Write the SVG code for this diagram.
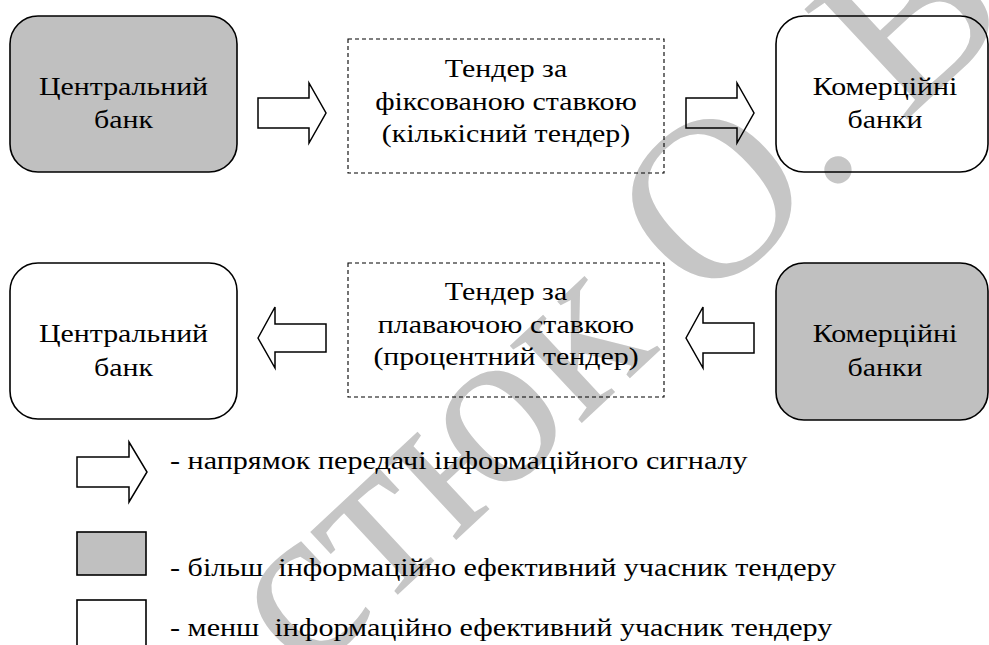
<svg xmlns="http://www.w3.org/2000/svg" width="989" height="645" viewBox="0 0 989 645">
<style>
.bg{fill:#ffffff}
.wm{font-size:230px;fill:#c6c6c6}
.node{stroke:#000;stroke-width:1.6}
.dark{fill:#c0c0c0}
.light{fill:none}
.dash{fill:none;stroke:#000;stroke-width:1.1;stroke-dasharray:4 3}
.arrow{fill:none;stroke:#000;stroke-width:1.5;stroke-linejoin:miter}
.t{font-size:26px;fill:#000;text-anchor:middle}
.lg{font-size:24.5px;fill:#000;white-space:pre}
</style>
<rect class="bg" x="0" y="0" width="989" height="645"/>
<g id="watermark" font-family="'Liberation Serif', 'DejaVu Serif', serif">
<text class="wm" transform="translate(305 681) rotate(-43)">стюк О.<tspan dx="-8"> В.</tspan></text>
</g>
<g font-family="'Liberation Serif', 'DejaVu Serif', serif">
<g id="n1">
<rect class="node dark" x="10" y="16" width="227" height="156" rx="28"/>
<text class="t" transform="translate(123.5 95) scale(1.15 1)">Центральний</text>
<text class="t" transform="translate(123.5 128) scale(1.15 1)">банк</text>
</g>
<g id="n2">
<rect class="dash" x="348" y="39" width="316" height="134"/>
<text class="t" transform="translate(506 77) scale(1.15 1)">Тендер за</text>
<text class="t" transform="translate(506 110) scale(1.15 1)">фіксованою ставкою</text>
<text class="t" transform="translate(506 142) scale(1.15 1)">(кількісний тендер)</text>
</g>
<g id="n3">
<rect class="node light" x="776" y="16" width="212" height="156" rx="28"/>
<text class="t" transform="translate(885 95) scale(1.15 1)">Комерційні</text>
<text class="t" transform="translate(885 128) scale(1.15 1)">банки</text>
</g>
<g id="n4">
<rect class="node light" x="10" y="263" width="227" height="156" rx="28"/>
<text class="t" transform="translate(123.5 342) scale(1.15 1)">Центральний</text>
<text class="t" transform="translate(123.5 376) scale(1.15 1)">банк</text>
</g>
<g id="n5">
<rect class="dash" x="348" y="263" width="316" height="134"/>
<text class="t" transform="translate(506 300) scale(1.15 1)">Тендер за</text>
<text class="t" transform="translate(506 333) scale(1.15 1)">плаваючою ставкою</text>
<text class="t" transform="translate(506 365) scale(1.15 1)">(процентний тендер)</text>
</g>
<g id="n6">
<rect class="node dark" x="776" y="263" width="212" height="157" rx="28"/>
<text class="t" transform="translate(885 342) scale(1.15 1)">Комерційні</text>
<text class="t" transform="translate(885 376) scale(1.15 1)">банки</text>
</g>
<g id="connectors">
<polygon class="arrow" points="258,98 309,98 309,83 326,113 309,143 309,128 258,128"/>
<polygon class="arrow" points="686,98 737,98 737,83 754,113 737,143 737,128 686,128"/>
<polygon class="arrow" points="258,338 275,307 275,324 326,324 326,352 275,352 275,368"/>
<polygon class="arrow" points="686,338 703,307 703,323 754,323 754,353 703,353 703,368"/>
</g>
<g id="legend">
<polygon class="arrow" points="77,457 129,457 129,442 147,472 129,502 129,487 77,487"/>
<text class="lg" transform="translate(170 469) scale(1.23 1)">- напрямок передачі інформаційного сигналу</text>
<rect class="node dark" x="77" y="532" width="69" height="43" stroke-width="1.3"/>
<text class="lg" transform="translate(170 576) scale(1.23 1)" xml:space="preserve">- більш  інформаційно ефективний учасник тендеру</text>
<rect class="node light" x="77" y="600" width="69" height="50" stroke-width="1.3"/>
<text class="lg" transform="translate(170 636) scale(1.23 1)" xml:space="preserve">- менш  інформаційно ефективний учасник тендеру</text>
</g>
</g>
</svg>
